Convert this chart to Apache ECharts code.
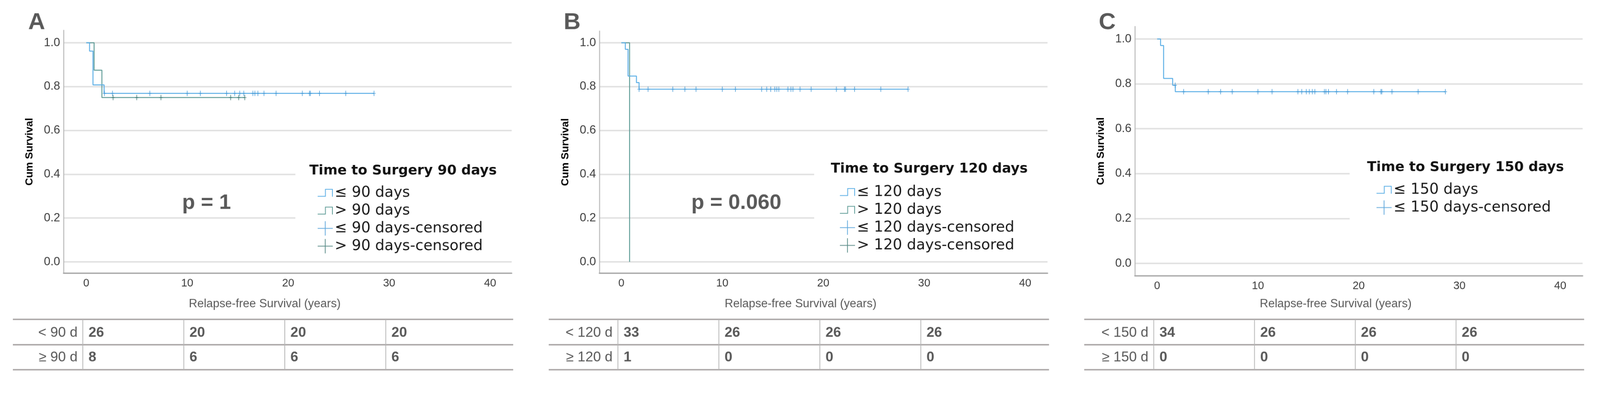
<!DOCTYPE html>
<html><head><meta charset="utf-8">
<script src="https://cdn.jsdelivr.net/npm/echarts@6/dist/echarts.min.js"></script>
<style>html,body{margin:0;padding:0;background:#fff;overflow:hidden}#main{width:4231px;height:1008px;transform-origin:0 0}</style>
</head><body><div id="main"></div>
<script>
// ---------------- data ----------------
const panelLetters = ['A', 'B', 'C'];
const legendTitles = ['Time to Surgery 90 days', 'Time to Surgery 120 days', 'Time to Surgery 150 days'];
const pValues = ['p = 1', 'p = 0.060', ''];
const yTicks = [0, 0.2, 0.4, 0.6, 0.8, 1.0];
const xTicks = [0, 10, 20, 30, 40];
const yAxisTitle = 'Cum Survival';
const xAxisTitle = 'Relapse-free Survival (years)';

// Panel A
const A_leName = '≤ 90 days', A_gtName = '> 90 days';
const A_leSteps = [[0, 1], [0.33, 0.962], [0.67, 0.808], [1.77, 0.769], [28.5, 0.769]];
const A_leCens = [1.8, 2.6, 6.3, 10.0, 11.3, 13.9, 14.7, 15.2, 15.6, 16.5, 16.7, 17.0, 17.6, 18.8, 21.4, 22.1, 22.2, 23.1, 25.7, 28.5];
const A_gtSteps = [[0, 1], [0.78, 0.875], [1.55, 0.75], [15.7, 0.75]];
const A_gtCens = [2.66, 5.0, 7.4, 14.3, 15.1, 15.7];

// Panel B
const B_leName = '≤ 120 days', B_gtName = '> 120 days';
const B_leSteps = [[0, 1], [0.4, 0.97], [0.67, 0.848], [1.5, 0.818], [1.76, 0.788], [28.4, 0.788]];
const B_leCens = [1.76, 2.65, 5.1, 6.3, 7.4, 10.0, 11.3, 13.9, 14.4, 14.8, 15.2, 15.4, 15.6, 16.5, 16.8, 17.0, 17.7, 18.8, 21.3, 22.1, 22.2, 23.1, 25.7, 28.4];
const B_gtSteps = [[0, 1], [0.82, 0]];
const B_gtCens = [];

// Panel C
const C_leName = '≤ 150 days';
const C_leSteps = [[0, 1], [0.34, 0.971], [0.64, 0.824], [1.54, 0.794], [1.8, 0.765], [28.6, 0.765]];
const C_leCens = [1.79, 2.63, 5.07, 6.3, 7.45, 10.0, 11.4, 13.97, 14.35, 14.8, 15.1, 15.4, 15.65, 16.6, 16.75, 17.0, 17.8, 18.9, 21.5, 22.2, 22.3, 23.3, 25.9, 28.6];

// Numbers at risk
const riskYears = [0, 10, 20, 30];
const A_riskRowLabels = ['< 90 d', '≥ 90 d'];
const A_riskLe = [26, 20, 20, 20];
const A_riskGt = [8, 6, 6, 6];
const B_riskRowLabels = ['< 120 d', '≥ 120 d'];
const B_riskLe = [33, 26, 26, 26];
const B_riskGt = [1, 0, 0, 0];
const C_riskRowLabels = ['< 150 d', '≥ 150 d'];
const C_riskLe = [34, 26, 26, 26];
const C_riskGt = [0, 0, 0, 0];

// ---------------- fit the 4231x1008 design into the actual viewport ----------------
(function fit() {
  const el = document.getElementById('main');
  const s = Math.min(window.innerWidth / 4231, window.innerHeight / 1008);
  if (isFinite(s) && s > 0 && Math.abs(s - 1) > 0.002) el.style.transform = 'scale(' + s + ')';
})();

// ---------------- styles / layout ----------------
const BLUE = '#5aaee6', BLUE_C = '#3a93d4', TEAL = '#5f9c97', TEAL_C = '#2f6e69';
const F_AX = '"Liberation Sans", Arial, sans-serif';
const F_LEG = '"DejaVu Sans", sans-serif';
const GRAY = '#595959';

const layouts = [
  {left: 168, width: 1185, top: 80, height: 642, yMin: -0.0518, yMax: 1.057, xMin: -2.247, xMax: 42.13,
   legLeft: 840, legTop: 490, titleX: 818, titleY: 452, boxX: 781, pX: 546, pY: 537, xtX: 700, letterX: 97},
  {left: 1585, width: 1185, top: 82, height: 640, yMin: -0.0518, yMax: 1.0535, xMin: -2.17, xMax: 42.21,
   legLeft: 2221, legTop: 488, titleX: 2197, titleY: 447, boxX: 2153, pX: 1947, pY: 537, xtX: 2117, letterX: 1513},
  {left: 3001, width: 1184, top: 70, height: 659, yMin: -0.0556, yMax: 1.0556, xMin: -2.21, xMax: 42.22,
   legLeft: 3640, legTop: 482, titleX: 3615, titleY: 443, boxX: 3569, pX: 0, pY: 0, xtX: 3532, letterX: 2928}
];

const panels = [
  {groups: [{name: A_leName, steps: A_leSteps, cens: A_leCens, c: BLUE, cc: BLUE_C},
            {name: A_gtName, steps: A_gtSteps, cens: A_gtCens, c: TEAL, cc: TEAL_C}],
   rowLabels: A_riskRowLabels, rows: [A_riskLe, A_riskGt]},
  {groups: [{name: B_leName, steps: B_leSteps, cens: B_leCens, c: BLUE, cc: BLUE_C},
            {name: B_gtName, steps: B_gtSteps, cens: B_gtCens, c: TEAL, cc: TEAL_C}],
   rowLabels: B_riskRowLabels, rows: [B_riskLe, B_riskGt]},
  {groups: [{name: C_leName, steps: C_leSteps, cens: C_leCens, c: BLUE, cc: BLUE_C}],
   rowLabels: C_riskRowLabels, rows: [C_riskLe, C_riskGt]}
];

const PLUS = 'path://M-0.6,0 L0.6,0 L0.6,10 L-0.6,10 Z M-3,4.4 L3,4.4 L3,5.6 L-3,5.6 Z';
const STEP_ICON = 'path://M0,18 L19,18 L19,0 L39,0 L39,20 L37,20 L37,2 L21,2 L21,20 L0,20 Z';
const PLUS_ICON = 'path://M19,0 L21,0 L21,18 L40,18 L40,20 L21,20 L21,38 L19,38 L19,20 L0,20 L0,18 L19,18 Z';

function survAt(steps, t) {
  let v = steps[0][1];
  for (const s of steps) { if (s[0] <= t) v = s[1]; }
  return v;
}

const grids = [], xAxes = [], yAxes = [], series = [], legends = [];
layouts.forEach((L, i) => {
  grids.push({left: L.left, top: L.top, width: L.width, height: L.height, containLabel: false, outerBoundsMode: 'none'});
  xAxes.push({
    type: 'value', gridIndex: i, min: L.xMin, max: L.xMax,
    axisLine: {show: true, onZero: false, lineStyle: {color: '#a8a8a8', width: 3.5}},
    axisTick: {show: false, customValues: xTicks},
    axisLabel: {customValues: xTicks, margin: 12, color: '#3c3c3c', fontSize: 29, fontFamily: F_AX},
    splitLine: {show: false}
  });
  yAxes.push({
    type: 'value', gridIndex: i, min: L.yMin, max: L.yMax,
    axisLine: {show: true, onZero: false, lineStyle: {color: '#b8b8b8', width: 2.5}},
    axisTick: {show: false, customValues: yTicks},
    axisLabel: {customValues: yTicks, margin: 9, color: '#3c3c3c', fontSize: 31, fontFamily: F_AX,
                formatter: v => v.toFixed(1)},
    splitLine: {show: true, lineStyle: {color: '#e2e2e2', width: 4}}
  });
  const P = panels[i];
  const legData = [];
  P.groups.forEach(g => legData.push({name: g.name, icon: STEP_ICON}));
  P.groups.forEach(g => legData.push({name: g.name + '-censored', icon: PLUS_ICON}));
  P.groups.slice().reverse().forEach((g, k) => {
    series.push({
      name: g.name, type: 'line', step: 'end', xAxisIndex: i, yAxisIndex: i,
      data: g.steps, showSymbol: false, symbol: 'none', color: g.c,
      lineStyle: {color: g.c, width: 2.5}, z: 2 + k, silent: true
    });
  });
  P.groups.forEach(g => {
    series.push({
      name: g.name + '-censored', type: 'scatter', xAxisIndex: i, yAxisIndex: i,
      data: g.cens.map(t => [t, survAt(g.steps, t)]),
      symbol: PLUS, symbolSize: [9, 14], color: g.c, itemStyle: {color: g.cc}, z: 5, silent: true
    });
  });
  legends.push({
    orient: 'vertical', left: L.legLeft, top: L.legTop, padding: 0,
    itemWidth: 40, itemHeight: 38, itemGap: 8, selectedMode: false,
    itemStyle: {borderWidth: 0},
    textStyle: {fontFamily: F_LEG, fontSize: 39, color: '#1a1a1a', lineHeight: 39},
    data: legData, z: 10
  });
});

const chart = echarts.init(document.getElementById('main'), null, {renderer: 'canvas', width: 4231, height: 1008});
chart.setOption({
  animation: false, backgroundColor: '#fff',
  grid: grids, xAxis: xAxes, yAxis: yAxes, series: series, legend: legends
});

// ---------------- annotations & number-at-risk tables ----------------
const graphics = [];
layouts.forEach((L, i) => {
  const P = panels[i];
  // white box behind legend
  graphics.push({type: 'rect', z: 3, shape: {x: L.boxX, y: 408, width: L.left + L.width - L.boxX, height: 262},
                 style: {fill: '#ffffff'}});
  // legend title
  graphics.push({type: 'text', z: 11, x: L.titleX, y: L.titleY,
    style: {text: legendTitles[i], fill: '#111', fontFamily: F_LEG, fontWeight: 'bold', fontSize: 36,
            align: 'left', verticalAlign: 'middle'}});
  // panel letter
  graphics.push({type: 'text', z: 11, x: L.letterX, y: 60,
    style: {text: panelLetters[i], fill: GRAY, fontFamily: F_AX, fontWeight: 'bold', fontSize: 62,
            align: 'center', verticalAlign: 'middle'}});
  // p value
  if (pValues[i]) {
    graphics.push({type: 'text', z: 11, x: L.pX, y: L.pY,
      style: {text: pValues[i], fill: GRAY, fontFamily: F_AX, fontWeight: 'bold', fontSize: 56,
              align: 'center', verticalAlign: 'middle'}});
  }
  // y axis title
  graphics.push({type: 'text', z: 11, x: L.left - 90, y: L.top + L.height / 2, rotation: Math.PI / 2,
    style: {text: yAxisTitle, fill: '#000', fontFamily: F_AX, fontWeight: 'bold', fontSize: 28,
            align: 'center', verticalAlign: 'middle'}});
  // x axis title
  graphics.push({type: 'text', z: 11, x: L.xtX, y: 803,
    style: {text: xAxisTitle, fill: GRAY, fontFamily: F_AX, fontSize: 31,
            align: 'center', verticalAlign: 'middle'}});
  // risk table
  const tL = L.left - 134, tR = L.left + L.width + 4;
  const hY = [844, 911, 977];
  hY.forEach(y => graphics.push({type: 'line', z: 11, shape: {x1: tL, y1: y, x2: tR, y2: y},
                                 style: {stroke: '#b1adad', lineWidth: 4}}));
  const colX = riskYears.map(yr => chart.convertToPixel({xAxisIndex: i}, yr) - 9);
  colX.forEach(x => graphics.push({type: 'line', z: 11, shape: {x1: x, y1: hY[0], x2: x, y2: hY[2]},
                                   style: {stroke: '#b5b5b5', lineWidth: 2}}));
  const rowY = [880, 945];
  P.rows.forEach((row, r) => {
    graphics.push({type: 'text', z: 11, x: colX[0] - 14, y: rowY[r],
      style: {text: P.rowLabels[r], fill: GRAY, fontFamily: F_AX, fontSize: 37, align: 'right', verticalAlign: 'middle'}});
    row.forEach((v, c) => graphics.push({type: 'text', z: 11, x: colX[c] + 15, y: rowY[r],
      style: {text: String(v), fill: GRAY, fontFamily: F_AX, fontWeight: 'bold', fontSize: 37,
              align: 'left', verticalAlign: 'middle'}}));
  });
});
chart.setOption({graphic: {elements: graphics}});
</script></body></html>
